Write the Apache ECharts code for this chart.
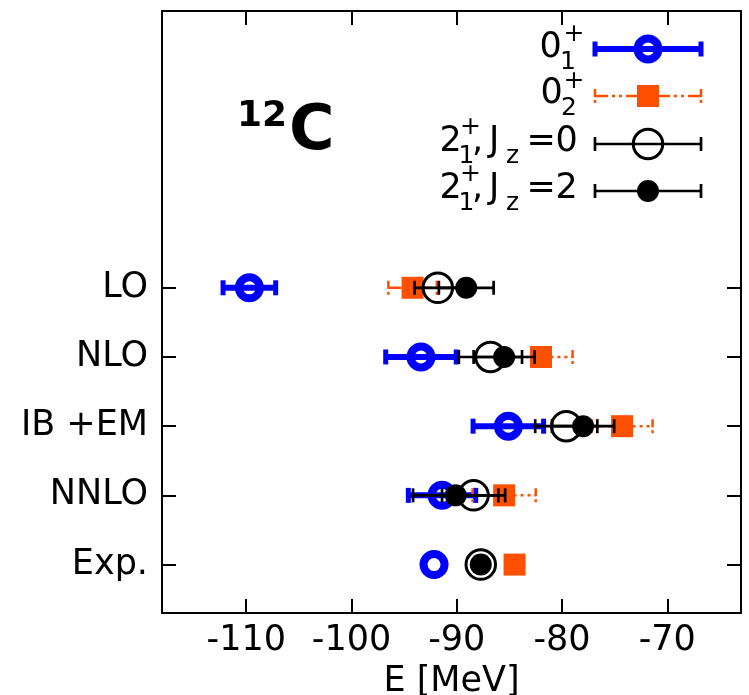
<!DOCTYPE html>
<html><head><meta charset="utf-8">
<script src="https://cdn.jsdelivr.net/npm/echarts@6/dist/echarts.min.js"></script>
<style>html,body{margin:0;padding:0;background:#fff}#c{width:749px;height:695px}</style>
</head><body><div id="c"></div>
<script>
// rows (top to bottom) and their positions on the value y axis
const rowLabels = ['LO', 'NLO', 'IB +EM', 'NNLO', 'Exp.'];
const rowPos = [4, 3, 2, 1, 0];
const xTicks = [-110, -100, -90, -80, -70];

// 0_1^+
const g01 = [-109.7, -93.4, -85.1, -91.4, -92.16];
const g01err = [2.5, 3.35, 3.35, 3.2, 0];
// 0_2^+
const g02 = [-94.2, -82.0, -74.3, -85.5, -84.51];
const g02err = [2.3, 3.0, 2.9, 3.0, 0];
// 2_1^+, Jz=0
const j0 = [-91.8, -86.8, -79.6, -88.4, -87.72];
const j0err = [2.2, 3.0, 2.95, 3.0, 0];
// 2_1^+, Jz=2
const j2 = [-89.1, -85.5, -78.0, -90.1, -87.72];
const j2err = [2.6, 2.9, 2.95, 4.05, 0];

const FONT = 'DejaVu Sans';
const BLUE = '#0000ff', ORANGE = '#ff5000', BLACK = '#000000';
const DASH = [13, 4, 3, 4, 3, 4];

const stBlue = {color: BLUE, width: 6, cap: 15, capWidth: 5};
const stOrange = {color: ORANGE, width: 2.5, cap: 14, capWidth: 2.5, dash: DASH, capDash: [8, 3, 3, 3]};
const stBlack = {color: BLACK, width: 2.7, cap: 14, capWidth: 2.7};

function barSeries(vals, errs, st, z) {
  const data = [];
  vals.forEach((v, i) => { if (errs[i] > 0) data.push([v - errs[i], v + errs[i], rowPos[i]]); });
  return {
    type: 'custom', z: z, silent: true, data: data,
    encode: {x: [0, 1], y: 2},
    renderItem: function (params, api) {
      const a = api.coord([api.value(0), api.value(2)]);
      const b = api.coord([api.value(1), api.value(2)]);
      const h = st.cap / 2;
      const ls = {stroke: st.color, lineWidth: st.width, lineDash: st.dash || null, fill: null};
      const cs = {stroke: st.color, lineWidth: st.capWidth, lineDash: st.capDash || null, fill: null};
      return {type: 'group', children: [
        {type: 'line', shape: {x1: a[0], y1: a[1], x2: b[0], y2: b[1]}, style: ls},
        {type: 'line', shape: {x1: a[0], y1: a[1] - h, x2: a[0], y2: a[1] + h}, style: cs},
        {type: 'line', shape: {x1: b[0], y1: b[1] - h, x2: b[0], y2: b[1] + h}, style: cs}
      ]};
    }
  };
}
function markSeries(vals, sym, z) {
  return Object.assign({
    type: 'scatter', z: z, silent: true,
    data: vals.map((v, i) => [v, rowPos[i]])
  }, sym);
}
const symBlue = {symbol: 'circle', symbolSize: 21, itemStyle: {color: 'rgba(0,0,0,0)', borderColor: BLUE, borderWidth: 8, opacity: 1}};
const symOrange = {symbol: 'rect', symbolSize: 22, itemStyle: {color: ORANGE, opacity: 1}};
const symOpen = {symbol: 'circle', symbolSize: 29.5, itemStyle: {color: 'rgba(0,0,0,0)', borderColor: BLACK, borderWidth: 3, opacity: 1}};
const symFilled = {symbol: 'circle', symbolSize: 22, itemStyle: {color: BLACK, opacity: 1}};

// ---- legend (graphic) ----
const LX1 = 595, LX2 = 701, LXC = 648;
const legendY = [49, 96, 144, 191];
function legendSample(y, st, marker) {
  const h = st.cap / 2;
  const els = [
    {type: 'line', shape: {x1: LX1, y1: y, x2: LX2, y2: y}, style: {stroke: st.color, lineWidth: st.width, lineDash: st.dash || null}},
    {type: 'line', shape: {x1: LX1, y1: y - h, x2: LX1, y2: y + h}, style: {stroke: st.color, lineWidth: st.capWidth, lineDash: st.capDash || null}},
    {type: 'line', shape: {x1: LX2, y1: y - h, x2: LX2, y2: y + h}, style: {stroke: st.color, lineWidth: st.capWidth, lineDash: st.capDash || null}}
  ];
  els.push(marker(y));
  return els;
}
function txt(s, x, cy, size, bold) {
  return {type: 'text', x: x, y: cy, style: {text: s, x: 0, y: 0, fill: '#000', font: (bold ? 'bold ' : '') + size + 'px "' + FONT + '"', align: 'left', verticalAlign: 'middle'}};
}
const graphics = [];
graphics.push(...legendSample(legendY[0], stBlue, y => ({type: 'circle', shape: {cx: LXC, cy: y, r: 10.5}, style: {fill: null, stroke: BLUE, lineWidth: 8}})));
graphics.push(...legendSample(legendY[1], stOrange, y => ({type: 'rect', shape: {x: LXC - 11, y: y - 11, width: 22, height: 22}, style: {fill: ORANGE}})));
graphics.push(...legendSample(legendY[2], stBlack, y => ({type: 'circle', shape: {cx: LXC, cy: y, r: 14.75}, style: {fill: null, stroke: BLACK, lineWidth: 3}})));
graphics.push(...legendSample(legendY[3], stBlack, y => ({type: 'circle', shape: {cx: LXC, cy: y, r: 11}, style: {fill: BLACK}})));

// legend labels
graphics.push(txt('0', 539.5, 48, 35), txt('+', 563.5, 34, 25), txt('1', 560, 62, 25));
graphics.push(txt('0', 540.5, 94, 35), txt('+', 563.5, 81, 25), txt('2', 561, 108, 25));
[142, 189].forEach((cy, k) => {
  graphics.push(txt('2', 439.5, cy, 35), txt('+', 460, cy - 15, 25), txt('1', 458.5, cy + 14, 25),
    txt(',', 472, cy, 35), txt('J', 489, cy, 35), txt('z', 506, cy + 14, 25),
    txt('=', 526.5, cy, 35), txt(k === 0 ? '0' : '2', 555.5, cy, 35));
});
// nucleus label
graphics.push(txt('12', 237, 116.5, 36, true), txt('C', 289, 133, 62, true));

const axisCommon = {
  type: 'value', min: -118, max: -63,
  axisLine: {show: true, onZero: false, lineStyle: {color: '#000', width: 2}},
  splitLine: {show: false}
};

const chart = echarts.init(document.getElementById('c'), null, {renderer: 'canvas'});
chart.setOption({
  animation: false,
  backgroundColor: '#fff',
  grid: {left: 162, right: 8, top: 11, bottom: 82, containLabel: false, outerBoundsMode: 'none'},
  xAxis: [
    Object.assign({}, axisCommon, {
      position: 'bottom',
      name: 'E [MeV]', nameLocation: 'middle', nameGap: 51,
      nameTextStyle: {fontFamily: FONT, fontSize: 35, color: '#000'},
      axisTick: {show: true, inside: true, length: 14, customValues: xTicks, lineStyle: {color: '#000', width: 2}},
      axisLabel: {show: true, customValues: xTicks, margin: 10, fontFamily: FONT, fontSize: 35, color: '#000'}
    }),
    Object.assign({}, axisCommon, {
      position: 'top',
      axisTick: {show: true, inside: true, length: 14, customValues: xTicks, lineStyle: {color: '#000', width: 2}},
      axisLabel: {show: false}
    })
  ],
  yAxis: [
    {
      type: 'value', min: -0.7, max: 8, position: 'left',
      axisLine: {show: true, onZero: false, lineStyle: {color: '#000', width: 2}},
      splitLine: {show: false},
      axisTick: {show: true, inside: true, length: 14, customValues: rowPos, lineStyle: {color: '#000', width: 2}},
      axisLabel: {show: true, customValues: rowPos, margin: 14, fontFamily: FONT, fontSize: 35, color: '#000',
        formatter: v => rowLabels[rowPos.indexOf(Math.round(v))] || ''}
    },
    {
      type: 'value', min: -0.7, max: 8, position: 'right',
      axisLine: {show: true, onZero: false, lineStyle: {color: '#000', width: 2}},
      splitLine: {show: false},
      axisTick: {show: true, inside: true, length: 14, customValues: rowPos, lineStyle: {color: '#000', width: 2}},
      axisLabel: {show: false}
    }
  ],
  series: [
    barSeries(g01, g01err, stBlue, 2), markSeries(g01, symBlue, 3),
    barSeries(g02, g02err, stOrange, 4), markSeries(g02, symOrange, 5),
    barSeries(j0, j0err, stBlack, 6), markSeries(j0, symOpen, 7),
    barSeries(j2, j2err, stBlack, 8), markSeries(j2, symFilled, 9)
  ],
  graphic: graphics
});
</script></body></html>
